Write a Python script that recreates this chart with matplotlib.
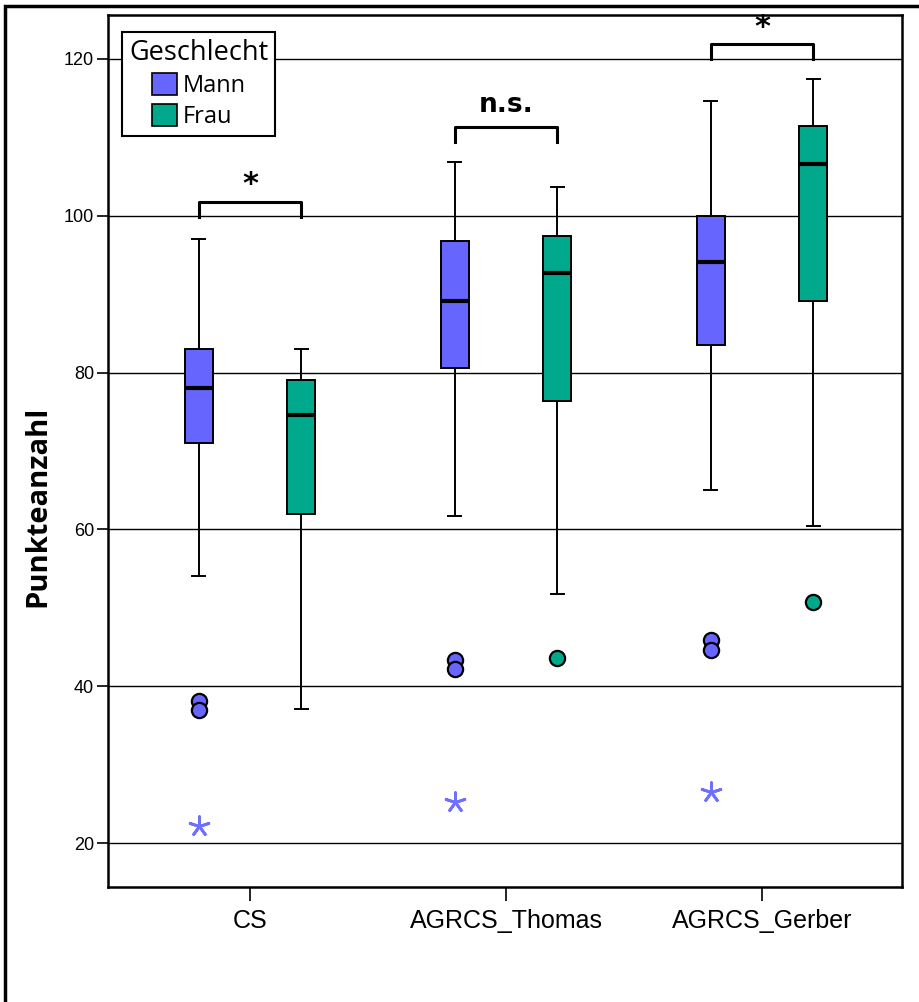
import numpy as np
import matplotlib.pyplot as plt
from matplotlib.patches import Patch, Rectangle

# Daten
groups = ['CS', 'AGRCS_Thomas', 'AGRCS_Gerber']

mann_whislo = [54.0, 61.7, 65.0]
mann_q1 = [71.0, 80.6, 83.5]
mann_med = [78.0, 89.1, 94.1]
mann_q3 = [83.0, 96.8, 100.0]
mann_whishi = [97.0, 106.9, 114.6]
mann_outliers = [[38.1, 37.0], [43.3, 42.2], [45.9, 44.6]]
mann_extremes = [22.2, 25.2, 26.5]

frau_whislo = [37.1, 51.8, 60.4]
frau_q1 = [62.0, 76.4, 89.1]
frau_med = [74.6, 92.7, 106.6]
frau_q3 = [79.0, 97.4, 111.5]
frau_whishi = [83.0, 103.7, 117.4]
frau_outliers = [[], [43.6], [50.7]]

sig_labels = ['*', 'n.s.', '*']
sig_heights = [101.8, 111.3, 121.9]

col_mann = '#6666ff'
col_frau = '#00a88c'
col_star = '#7070ff'

fig = plt.figure(figsize=(9.2, 10.02), dpi=100)
ax = fig.add_axes([108/920, 1 - 887/1002, 794/920, 872/1002])

x = np.arange(len(groups))
off = 0.2
bw = 0.11


def make_stats(lo, q1, med, q3, hi):
    return [dict(whislo=lo[i], q1=q1[i], med=med[i], q3=q3[i], whishi=hi[i], fliers=[])
            for i in range(len(lo))]


stats_m = make_stats(mann_whislo, mann_q1, mann_med, mann_q3, mann_whishi)
stats_f = make_stats(frau_whislo, frau_q1, frau_med, frau_q3, frau_whishi)

for stats, pos, col in [(stats_m, x - off, col_mann), (stats_f, x + off, col_frau)]:
    ax.bxp(stats, positions=pos, widths=bw, capwidths=0.05, patch_artist=True,
           showfliers=False, manage_ticks=False,
           boxprops=dict(facecolor=col, edgecolor='black', linewidth=1.4),
           medianprops=dict(color='black', linewidth=3),
           whiskerprops=dict(color='black', linewidth=1.4),
           capprops=dict(color='black', linewidth=1.4), zorder=3)

# Ausreißer und Extremwerte
for i in range(len(groups)):
    ys = mann_outliers[i]
    ax.scatter([x[i] - off] * len(ys), ys, s=120, color=col_mann, edgecolor='black',
               linewidth=1.6, zorder=4)
    ys = frau_outliers[i]
    ax.scatter([x[i] + off] * len(ys), ys, s=120, color=col_frau, edgecolor='black',
               linewidth=1.6, zorder=4)
ax.scatter(x - off, mann_extremes, marker=(5, 2, 0), s=200, color=col_star,
           linewidth=2, zorder=4)

# Signifikanz-Klammern
for i in range(len(groups)):
    h = sig_heights[i]
    ax.plot([x[i] - off, x[i] - off, x[i] + off, x[i] + off], [h - 1.9, h, h, h - 1.9],
            color='black', linewidth=2.2, zorder=4, solid_joinstyle='round')
    if sig_labels[i] == '*':
        ax.text(x[i], h + 0.3, '*', fontsize=22, fontweight='bold', ha='center', va='bottom')
    else:
        ax.text(x[i], h + 1.2, sig_labels[i], fontsize=19, fontweight='bold', ha='center', va='bottom')

ax.set_xlim(-0.555, 2.547)
ax.set_ylim(14.4, 125.6)
ax.set_yticks([20, 40, 60, 80, 100, 120])
ax.set_xticks(x)
ax.set_xticklabels(groups, fontsize=18, family='Liberation Sans')
for lab in ax.get_yticklabels():
    lab.set_fontsize(13)
    lab.set_family('Liberation Sans')
ax.tick_params(axis='y', length=8, width=1.2, pad=2)
ax.tick_params(axis='x', length=10, width=1.2, pad=6)
ax.grid(axis='y', color='black', linewidth=1.0, zorder=0)
ax.set_axisbelow(True)
for s in ax.spines.values():
    s.set_linewidth(1.8)

ax.set_ylabel('Punkteanzahl', fontsize=21, fontweight='bold', family='Open Sans')
ax.yaxis.set_label_coords(-0.0705, 0.436)

handles = [Patch(facecolor=col_mann, edgecolor='black', linewidth=1.2, label='Mann'),
           Patch(facecolor=col_frau, edgecolor='black', linewidth=1.2, label='Frau')]
leg = ax.legend(handles=handles, title='Geschlecht', loc='upper left',
                bbox_to_anchor=(0.0176, 0.9805), borderaxespad=0, fancybox=False, framealpha=1,
                edgecolor='black', title_fontsize=19.5,
                handlelength=1.05, handleheight=1.05, handletextpad=0.25,
                labelspacing=0.25, borderpad=0.3, prop={'family': 'Open Sans', 'size': 17})
leg.get_title().set_family('Open Sans')
leg.get_frame().set_linewidth(1.5)

# äußerer Rahmen
fig.patches.append(Rectangle((5.5/920, -0.05), 1.0, 1 - 6.5/1002 + 0.05, transform=fig.transFigure,
                             fill=False, edgecolor='black', linewidth=2.5, clip_on=False))

fig.savefig('out.png', dpi=100)
